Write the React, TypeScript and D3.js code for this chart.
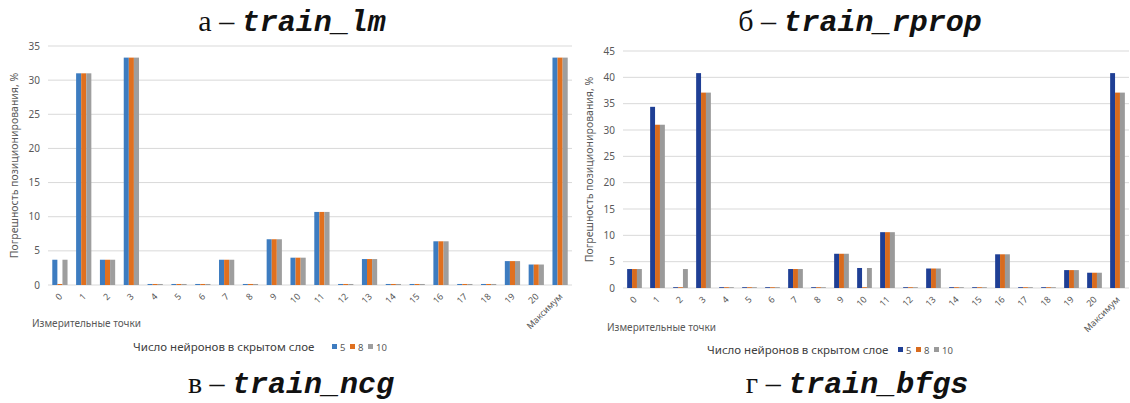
import React from "react";
import { scaleBand, scaleLinear, range } from "d3";

const categories = ["0", "1", "2", "3", "4", "5", "6", "7", "8", "9", "10", "11", "12", "13", "14", "15", "16", "17", "18", "19", "20", "Максимум"];
const seriesNames = ["5", "8", "10"];

const lm5 = [3.7, 31.0, 3.7, 33.3, 0.15, 0.15, 0.15, 3.7, 0.15, 6.7, 4.0, 10.7, 0.15, 3.8, 0.15, 0.15, 6.4, 0.15, 0.15, 3.5, 3.0, 33.3];
const lm8 = [0.15, 31.0, 3.7, 33.3, 0.15, 0.15, 0.15, 3.7, 0.15, 6.7, 4.0, 10.7, 0.15, 3.8, 0.15, 0.15, 6.4, 0.15, 0.15, 3.5, 3.0, 33.3];
const lm10 = [3.7, 31.0, 3.7, 33.3, 0.15, 0.15, 0.15, 3.7, 0.15, 6.7, 4.0, 10.7, 0.15, 3.8, 0.15, 0.15, 6.4, 0.15, 0.15, 3.5, 3.0, 33.3];

const rprop5 = [3.6, 34.4, 0.15, 40.8, 0.15, 0.15, 0.15, 3.6, 0.15, 6.5, 3.8, 10.6, 0.15, 3.7, 0.15, 0.15, 6.4, 0.15, 0.15, 3.4, 2.9, 40.8];
const rprop8 = [3.6, 31.0, 0.15, 37.1, 0.15, 0.15, 0.15, 3.6, 0.15, 6.5, 0.15, 10.6, 0.15, 3.7, 0.15, 0.15, 6.4, 0.15, 0.15, 3.4, 2.9, 37.1];
const rprop10 = [3.6, 31.0, 3.6, 37.1, 0.15, 0.15, 0.15, 3.6, 0.15, 6.5, 3.8, 10.6, 0.15, 3.7, 0.15, 0.15, 6.4, 0.15, 0.15, 3.4, 2.9, 37.1];

const lmTicks = [0, 5, 10, 15, 20, 25, 30, 35];
const rpropTicks = [0, 5, 10, 15, 20, 25, 30, 35, 40, 45];

const yTitle = "Погрешность позиционирования, %";
const xTitle = "Измерительные точки";
const legendTitle = "Число нейронов в скрытом слое";

const sans = "'Noto Sans', 'Open Sans', sans-serif";
const textGray = "#595959";

const Panel = ({ series, colors, ticks, x0, x1, yTop, yBottom, yTitleX, xTitleX, xTitleY, legendX, legendY, swatchX }) => {
  const xScale = scaleBand().domain(categories).range([x0, x1]).paddingInner(0.36).paddingOuter(0.18);
  const sub = scaleBand().domain(seriesNames).range([0, xScale.bandwidth()]);
  const yScale = scaleLinear().domain([0, ticks[ticks.length - 1]]).range([yBottom, yTop]);

  const grid = ticks.map((t) => (
    <g key={t}>
      <line x1={x0} x2={x1} y1={yScale(t)} y2={yScale(t)} stroke="#d9d9d9" strokeWidth={1} />
      <text x={x0 - 8} y={yScale(t) + 3.5} textAnchor="end" fontSize="10px" fill={textGray} fontFamily={sans}>
        {t}
      </text>
    </g>
  ));

  const bars = categories.map((c, i) => (
    <g key={c} transform={`translate(${xScale(c)},0)`}>
      {series.map((s, j) => (
        <rect
          key={j}
          x={sub(seriesNames[j])}
          y={yScale(s[i])}
          width={sub.bandwidth()}
          height={yBottom - yScale(s[i])}
          fill={colors[j]}
        />
      ))}
    </g>
  ));

  const xLabels = categories.map((c) => {
    const cx = xScale(c) + xScale.bandwidth() / 2 + 3;
    return (
      <text
        key={c}
        transform={`translate(${cx},${yBottom + 12}) rotate(-45)`}
        textAnchor="end"
        fontSize="9px"
        fill={textGray}
        fontFamily={sans}
      >
        {c}
      </text>
    );
  });

  const legend = seriesNames.map((n, j) => (
    <g key={n} transform={`translate(${swatchX + j * 18},0)`}>
      <rect x={0} y={legendY - 7} width={5} height={5} fill={colors[j]} />
      <text x={8} y={legendY} fontSize="9.5px" fill={textGray} fontFamily={sans}>
        {n}
      </text>
    </g>
  ));

  return (
    <g>
      {grid}
      {bars}
      {xLabels}
      <text
        transform={`translate(${yTitleX},${(yTop + yBottom) / 2}) rotate(-90)`}
        textAnchor="middle"
        fontSize="10.5px"
        fill={textGray}
        fontFamily={sans}
      >
        {yTitle}
      </text>
      <text x={xTitleX} y={xTitleY} fontSize="10px" fill={textGray} fontFamily={sans}>
        {xTitle}
      </text>
      <text x={legendX} y={legendY} fontSize="11.5px" fill="#404040" fontFamily={sans}>
        {legendTitle}
      </text>
      {legend}
    </g>
  );
};

const Caption = ({ x, y, letter, name }) => (
  <text x={x} y={y} textAnchor="middle" fontSize="30px" fill="#111">
    <tspan fontFamily="'Liberation Serif', 'DejaVu Serif', serif">{letter} – </tspan>
    <tspan fontFamily="'Liberation Mono', 'DejaVu Sans Mono', monospace" fontWeight="bold" fontStyle="italic">
      {name}
    </tspan>
  </text>
);

export default function App() {
  return (
    <svg
      width={1130}
      height={403}
      style={{ position: "absolute", left: 0, top: 0, background: "#fff" }}
    >
      <Panel
        series={[lm5, lm8, lm10]}
        colors={["#3d7cc0", "#e0701f", "#9e9e9e"]}
        ticks={lmTicks}
        x0={48}
        x1={572}
        yTop={46}
        yBottom={285}
        yTitleX={18}
        xTitleX={32}
        xTitleY={327}
        legendX={133}
        legendY={351}
        swatchX={332}
      />
      <Panel
        series={[rprop5, rprop8, rprop10]}
        colors={["#1f3f95", "#d86b1e", "#9a9a9a"]}
        ticks={rpropTicks}
        x0={623}
        x1={1129}
        yTop={51}
        yBottom={288}
        yTitleX={593}
        xTitleX={607}
        xTitleY={331}
        legendX={707}
        legendY={354}
        swatchX={898}
      />
      <Caption x={292} y={31} letter="а" name="train_lm" />
      <Caption x={860} y={31} letter="б" name="train_rprop" />
      <Caption x={291} y={393} letter="в" name="train_ncg" />
      <Caption x={857} y={393} letter="г" name="train_bfgs" />
    </svg>
  );
}
